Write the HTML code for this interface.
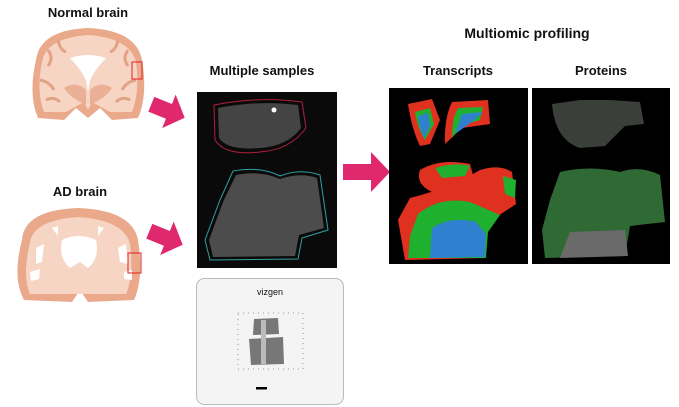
<!DOCTYPE html>
<html><head><style>
html,body{margin:0;padding:0;background:#fff;width:679px;height:407px;overflow:hidden}
svg{display:block}
text{font-family:"Liberation Sans",sans-serif;font-weight:bold;fill:#111}
</style></head><body>
<svg width="679" height="407" viewBox="0 0 679 407" xmlns="http://www.w3.org/2000/svg">
<defs>
<path id="arr" d="M-18,-8 L1,-8 L1,-18 L18,0 L1,18 L1,8 L-18,8Z"/>
</defs>
<text x="88" y="17" font-size="13" text-anchor="middle">Normal brain</text>
<text x="80" y="196" font-size="13" text-anchor="middle">AD brain</text>
<text x="262" y="75" font-size="13" text-anchor="middle">Multiple samples</text>
<text x="527" y="38" font-size="14" text-anchor="middle">Multiomic profiling</text>
<text x="458" y="75" font-size="13" text-anchor="middle">Transcripts</text>
<text x="601" y="75" font-size="13" text-anchor="middle">Proteins</text>

<!-- normal brain -->
<g>
<path d="M36,60 Q40,30 88,28 Q136,30 142,60 Q148,95 138,118 L112,120 L100,108 L88,118 L76,108 L64,120 L38,118 Q28,95 36,60Z" fill="#e9a98a"/>
<path d="M42,62 Q46,38 88,35 Q130,38 136,62 Q140,92 132,112 L110,112 L92,102 L88,110 L84,102 L66,112 L44,112 Q36,92 42,62Z" fill="#f7d5c4"/>
<g fill="none" stroke="#e2a285" stroke-width="3">
<path d="M48,50 q6,8 0,16 M58,40 q2,10 8,12 M118,40 q-2,10 -8,12 M128,50 q-6,8 0,16 M40,80 q10,2 14,10 M136,80 q-10,2 -14,10 M46,100 q8,-4 14,2 M130,100 q-8,-4 -14,2"/>
</g>
<path d="M64,88 Q76,80 86,90 L86,104 Q72,100 64,88Z M112,88 Q100,80 90,90 L90,104 Q104,100 112,88Z" fill="#eab095"/>
<path d="M70,58 Q88,52 106,58 Q96,68 90,80 L88,92 L86,80 Q80,68 70,58Z" fill="#fff"/>
<rect x="132" y="62" width="10" height="17" fill="none" stroke="#e02020" stroke-width="1"/>
</g>
<!-- AD brain -->
<g>
<path d="M22,240 Q24,210 78,208 Q132,210 138,240 Q144,278 134,300 L88,302 L80,290 L72,302 L24,300 Q12,278 22,240Z" fill="#e9a98a"/>
<path d="M30,242 Q34,220 78,217 Q124,220 130,244 Q134,276 126,294 L30,294 Q22,276 30,242Z" fill="#f7d5c4"/>
<g fill="#fff">
<path d="M62,240 Q78,232 96,240 Q100,258 88,268 L80,262 L70,268 Q58,258 62,240Z"/>
<path d="M36,248 l8,-4 l-2,18 l-6,2Z M118,248 l8,-4 l2,20 l-8,-2Z M30,272 l10,-3 l-1,10 l-8,2Z M124,272 l8,-2 l0,10 l-8,-1Z M52,228 l6,-2 l0,10Z M104,228 l-6,-2 l0,10Z"/>
</g>
<rect x="128" y="253" width="13" height="20" fill="none" stroke="#e02020" stroke-width="1"/>
</g>
<!-- pink arrows -->
<g fill="#e0286e">
<use href="#arr" transform="translate(168,111) rotate(22)"/>
<use href="#arr" transform="translate(166,238) rotate(22)"/>
<path d="M343,164 l28,0 l0,-12 l19,20 l-19,20 l0,-12 l-28,0Z"/>
</g>
<!-- samples image -->
<rect x="197" y="92" width="140" height="176" fill="#0a0a0a"/>
<path d="M214,105 Q260,96 302,102 L306,128 Q290,150 260,152 Q225,156 215,140Z" fill="none" stroke="#b02040" stroke-width="1"/>
<path d="M218,108 Q260,100 298,105 L301,128 Q288,146 260,148 Q228,151 219,138Z" fill="#444"/>
<circle cx="274" cy="110" r="2.5" fill="#fff"/>
<path d="M233,171 Q260,166 280,176 Q300,168 320,175 L328,230 L302,238 L298,259 L210,260 L205,240 L220,200Z" fill="none" stroke="#30a0a0" stroke-width="1"/>
<path d="M236,175 Q260,170 280,179 Q300,172 317,178 L324,228 L299,235 L295,256 L213,257 L209,240 L223,202Z" fill="#4c4c4c"/>
<!-- vizgen box -->
<rect x="196.5" y="278.5" width="147" height="126" rx="8" fill="#f4f4f4" stroke="#bbb"/>
<text x="270" y="295" font-size="9" text-anchor="middle" fill="#333" style="font-weight:normal">vizgen</text>
<rect x="238" y="313" width="65" height="56" fill="none" stroke="#999" stroke-dasharray="1,4"/>
<path d="M254,319 L278,318 L279,334 L253,335Z M249,339 L283,337 L284,364 L251,365Z" fill="#777"/>
<rect x="261" y="320" width="5" height="44" fill="#bbb"/>
<rect x="256" y="387" width="11" height="2.5" fill="#000"/>
<!-- transcripts -->
<rect x="389" y="88" width="139" height="176" fill="#000"/>
<path d="M408,104 L432,99 L440,120 L430,144 L420,146 Q412,130 408,104Z" fill="#e03020"/>
<path d="M415,112 L430,108 L434,124 L425,140 Q418,130 415,112Z" fill="#20b030"/>
<path d="M418,116 L428,113 L430,126 L424,138 Q420,130 418,116Z" fill="#3080d0"/>
<path d="M452,102 L488,100 L490,124 L462,128 L445,144 Q444,118 452,102Z" fill="#e03020"/>
<path d="M458,108 L483,107 L480,120 L460,126 L452,138 Q452,118 458,108Z" fill="#20b030"/>
<path d="M462,114 L483,112 L472,122 L455,134Z" fill="#3080d0"/>
<path d="M420,170 Q440,158 470,164 L475,182 L432,192 Q415,184 420,170Z" fill="#e03020"/>
<path d="M435,168 Q455,162 470,166 L465,176 L442,178Z" fill="#20b030"/>
<path d="M480,170 Q500,164 512,172 L516,204 L498,216 L485,236 L485,258 L405,260 L398,220 L410,198 Q450,188 480,170Z" fill="#e03020"/>
<path d="M418,214 Q440,196 470,202 L500,215 L488,232 L486,258 L408,258 L410,236Z" fill="#20b030"/>
<path d="M432,228 Q450,216 476,222 L486,234 L485,257 L430,258Z" fill="#3080d0"/>
<path d="M503,176 L516,180 L515,198 L505,194Z" fill="#20b030"/>
<!-- proteins -->
<rect x="532" y="88" width="138" height="176" fill="#000"/>
<path d="M552,104 L580,100 L610,100 L640,102 L644,124 L625,126 L605,146 L580,148 Q555,140 552,104Z" fill="#3a3f3a"/>
<path d="M560,172 Q590,165 620,172 Q640,165 660,175 L665,222 L630,226 L625,256 L545,258 L542,230 L550,200Z" fill="#2f6a35"/>
<path d="M570,232 L625,230 L628,256 L560,258Z" fill="#6a6a6a"/>
</svg>
</body></html>
